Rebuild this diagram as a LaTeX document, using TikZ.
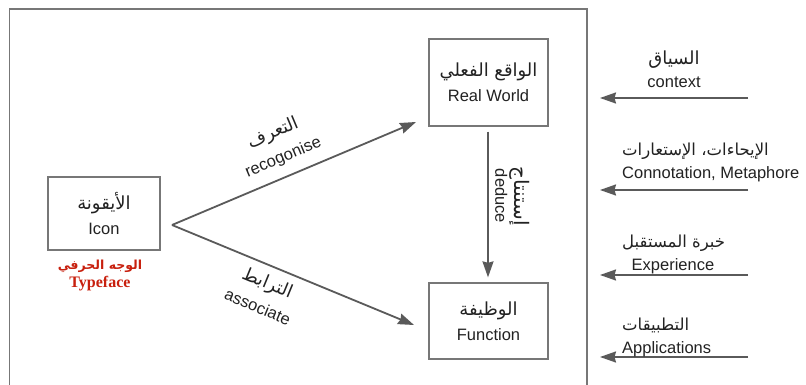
\documentclass[tikz,border=0pt]{standalone}
\usepackage{fontspec}
\setmainfont{Liberation Sans}
\newfontfamily\arabicfont[Script=Arabic]{DejaVu Sans}
\newfontfamily\tnrfont{Liberation Serif}
\usetikzlibrary{arrows.meta}
\TeXXeTstate=1
\newcommand{\artxt}[1]{{\arabicfont\beginR #1\endR}}
\newcommand{\arbig}[1]{{\arabicfont\fontsize{18}{26}\selectfont\beginR #1\endR}}
\definecolor{txt}{HTML}{222222}
\definecolor{lin}{HTML}{5A5A5A}
\definecolor{bord}{HTML}{777777}
\definecolor{redtxt}{HTML}{C8200E}
\tikzset{
  box/.style={draw=bord, line width=1.3pt, text=txt, align=center, inner sep=2pt,
    font=\fontsize{16.5}{25}\selectfont},
  lbl/.style={text=txt, align=center, inner sep=1pt, font=\fontsize{16.5}{26}\selectfont},
  rlbl/.style={text=txt, inner sep=1pt, font=\fontsize{16.5}{20}\selectfont},
  conn/.style={draw=lin, line width=1.8pt, -{Stealth[length=16pt,width=11pt,inset=1.5pt]}},
  frame/.style={draw=bord, line width=1.8pt},
}
\begin{document}
\begin{tikzpicture}[x=1pt,y=-1pt]
\useasboundingbox (0,0) rectangle (806,385);
\fill[white] (0,0) rectangle (806,385);
% frame
\draw[frame] (9.5,385) -- (9.5,9) -- (587,9) -- (587,385);
% boxes
\node[box, minimum width=112pt, minimum height=73pt] (icon) at (104,213.5) {\arbig{الأيقونة}\\Icon};
\node[box, minimum width=119pt, minimum height=87pt] (rw) at (488.5,82.5) {\arbig{الواقع الفعلي}\\Real World};
\node[box, minimum width=119pt, minimum height=76pt] (fn) at (488.5,321) {\arbig{الوظيفة}\\Function};
% typeface
\node[text=redtxt, inner sep=0pt, font=\arabicfont\bfseries\fontsize{12.5}{14}\selectfont] (tfa) at (100,266.5) {\beginR الوجه الحرفي\endR};
\node[text=redtxt, inner sep=0pt, font=\tnrfont\bfseries\fontsize{16}{17}\selectfont] (tfe) at (100,284) {Typeface};
% connectors
\coordinate (apex) at (172,225);
\coordinate (rwtip) at (416,122);
\coordinate (fntip) at (414,325);
\draw[conn] (apex) -- (rwtip);
\draw[conn] (apex) -- (fntip);
\draw[conn] ([xshift=-0.5pt,yshift=-5pt]rw.south) -- ([xshift=-0.5pt,yshift=5pt]fn.north);
% arrow labels
\node[lbl, rotate=22.8] (recl) at (278,145) {\arbig{التعرف}\\recogonise};
\node[lbl, rotate=-22.4] (assl) at (263,294) {\arbig{الترابط}\\associate};
\node[lbl, rotate=-90, font=\fontsize{16.5}{19}\selectfont] (dedl) at (512.5,196) {{\arabicfont\fontsize{20}{19}\selectfont\beginR إستنتاج\endR}\\deduce};
% right-side inputs
\coordinate (c1s) at (748,98);  \coordinate (c1e) at (600,98);
\coordinate (c2s) at (748,190); \coordinate (c2e) at (600,190);
\coordinate (c3s) at (748,275); \coordinate (c3e) at (600,275);
\coordinate (c4s) at (748,357); \coordinate (c4e) at (600,357);
\draw[conn] (c1s) -- (c1e);
\draw[conn] (c2s) -- (c2e);
\draw[conn] (c3s) -- (c3e);
\draw[conn] (c4s) -- (c4e);
\node[rlbl] (ctxa) at (674,60) {\arbig{السياق}};
\node[rlbl] (ctxe) at (674,82) {context};
\node[rlbl, anchor=west] (cona) at (621,151) {\artxt{الإيحاءات، الإستعارات}};
\node[rlbl, anchor=west] (cone) at (621,174) {Connotation, Metaphore};
\node[rlbl, anchor=west] (expa) at (621,243) {\artxt{خبرة المستقبل}};
\node[rlbl] (expe) at (673,266) {Experience};
\node[rlbl, anchor=west] (appa) at (621,325) {\artxt{التطبيقات}};
\node[rlbl, anchor=west] (appe) at (621,349) {Applications};
\end{tikzpicture}
\end{document}
